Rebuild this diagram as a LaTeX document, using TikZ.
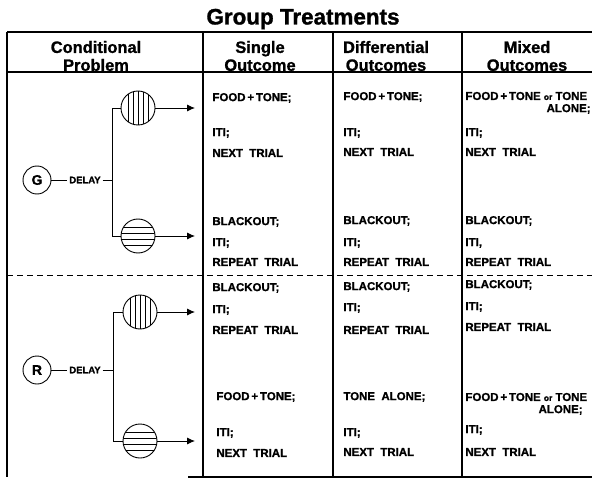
\documentclass[tikz,border=0pt]{standalone}
\usepackage{fontspec}
\setmainfont{Liberation Sans}[BoldFeatures={FakeBold=1.2}]
\usetikzlibrary{arrows.meta}
\begin{document}
\begin{tikzpicture}[x=1bp,y=-1bp,line width=0.9bp,
	cell/.style={anchor=west,inner sep=0pt,font=\bfseries\fontsize{11.5}{12}\selectfont},
	head/.style={align=center,inner sep=0pt,font=\bfseries\fontsize{16.5}{18}\selectfont},
	stim/.style={circle,draw,minimum size=28bp,inner sep=0pt,font=\bfseries\fontsize{14}{14}\selectfont},
	vkey/.style={circle,draw,minimum size=34bp,inner sep=0pt,path picture={
		\foreach \d in {-10,-5,0,5,10}
		\draw ([xshift=\d bp]path picture bounding box.north) -- ([xshift=\d bp]path picture bounding box.south);}},
	hkey/.style={circle,draw,minimum size=34bp,inner sep=0pt,path picture={
		\foreach \d in {-9,-3,3,9}
		\draw ([yshift=\d bp]path picture bounding box.west) -- ([yshift=\d bp]path picture bounding box.east);}},
	delaylbl/.style={inner sep=1.5bp,font=\bfseries\fontsize{9.5}{10}\selectfont},
	resp/.style={-{Latex[length=8bp,width=7bp]}},
	frame/.style={line width=1.1bp}]
	\useasboundingbox (0,0) rectangle (592,478);
	% table
	\draw[frame] (7,32) -- (592,32) (7,72) -- (592,72) (7,32) -- (7,477) (188,477) -- (592,477);
	\foreach \x in {203,333,462} \draw[frame] (\x,32) -- (\x,477);
	\draw[dash pattern=on 6bp off 4bp] (7,275) -- (592,275);
	\node[font=\bfseries\fontsize{22.5}{22}\selectfont] (title) at (303,19) {Group Treatments};
	\node[head] (hcond) at (96,56) {Conditional\\Problem};
	\node[head] (hsing) at (260,56) {Single\\Outcome};
	\node[head] (hdiff) at (386,56) {Differential\\Outcomes};
	\node[head] (hmix) at (527,56) {Mixed\\Outcomes};
	% G trials
	\node[stim] (G) at (37,180) {G};
	\node[delaylbl] (gdl) at (85,180) {DELAY};
	\coordinate (gj) at (112,180);
	\node[vkey] (gv) at (138,108) {};
	\node[hkey] (gh) at (138,236) {};
	\coordinate (gva) at (195,108); \coordinate (gha) at (195,236);
	\draw (G) -- (gdl) -- (gj);
	\draw (gv.west) -- (gv.west -| gj) -- (gh.west -| gj) -- (gh.west);
	\draw[resp] (gv) -- (gva);
	\draw[resp] (gh) -- (gha);
	% R trials
	\node[stim] (R) at (37,370) {R};
	\node[delaylbl] (rdl) at (85,370) {DELAY};
	\coordinate (rj) at (113,370);
	\node[vkey] (rv) at (140,312) {};
	\node[hkey] (rh) at (140,441) {};
	\coordinate (rva) at (195,312); \coordinate (rha) at (195,441);
	\draw (R) -- (rdl) -- (rj);
	\draw (rv.west) -- (rv.west -| rj) -- (rh.west -| rj) -- (rh.west);
	\draw[resp] (rv) -- (rva);
	\draw[resp] (rh) -- (rha);
	% single outcome
	\foreach \yy/\tt in {98/{FOOD\,+\,TONE;},133/{ITI;},153/{NEXT\ \ TRIAL},
		222/{BLACKOUT;},243/{ITI;},262/{REPEAT\ \ TRIAL},
		288/{BLACKOUT;},310/{ITI;},330/{REPEAT\ \ TRIAL}}
		\node[cell] (sing\yy) at (212,\yy) {\tt};
	\foreach \yy/\tt in {397/{FOOD\,+\,TONE;},433/{ITI;},453/{NEXT\ \ TRIAL}}
		\node[cell] (sing\yy) at (216,\yy) {\tt};
	% differential outcomes
	\foreach \yy/\tt in {97/{FOOD\,+\,TONE;},133/{ITI;},152/{NEXT\ \ TRIAL},
		221/{BLACKOUT;},243/{ITI;},262/{REPEAT\ \ TRIAL},
		287/{BLACKOUT;},308/{ITI;},330/{REPEAT\ \ TRIAL},
		397/{TONE\ \ ALONE;},433/{ITI;},452/{NEXT\ \ TRIAL}}
		\node[cell] (diff\yy) at (343,\yy) {\tt};
	% mixed outcomes
	\foreach \yy/\tt in {96/{FOOD\,+\,TONE {\fontsize{8.5}{9}\selectfont or} TONE},133/{ITI;},152/{NEXT\ \ TRIAL},
		221/{BLACKOUT;},243/{ITI,},262/{REPEAT\ \ TRIAL},
		285/{BLACKOUT;},307/{ITI;},327/{REPEAT\ \ TRIAL},
		397/{FOOD\,+\,TONE {\fontsize{8.5}{9}\selectfont or} TONE},430/{ITI;},452/{NEXT\ \ TRIAL}}
		\node[cell] (mix\yy) at (465,\yy) {\tt};
	\node[cell,anchor=east] (mixal1) at (591,109) {ALONE;};
	\node[cell,anchor=east] (mixal2) at (583,410) {ALONE;};
\end{tikzpicture}
\end{document}
